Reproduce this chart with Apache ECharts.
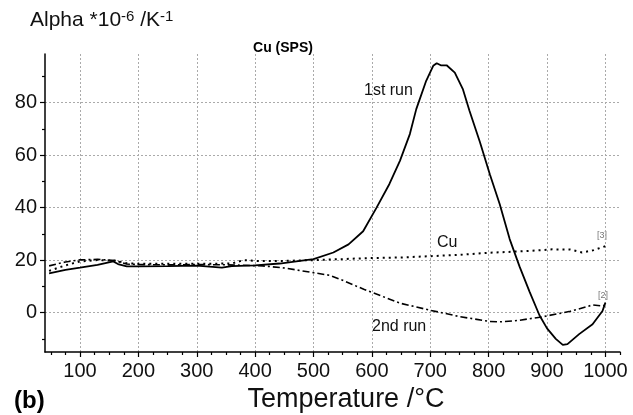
<!DOCTYPE html>
<html>
<head>
<meta charset="utf-8">
<script src="https://cdn.jsdelivr.net/npm/echarts@6/dist/echarts.min.js"></script>
<style>
  html, body { margin: 0; padding: 0; background: #fff; }
  #chart { width: 633px; height: 415px; }
</style>
</head>
<body>
<div id="chart"></div>
<script>
// values
const run1Temp = [47, 75, 100, 130, 157, 165, 180, 200, 250, 300, 343, 360, 400, 442, 477, 500, 534, 560, 585, 608, 630, 648, 665, 676, 693, 705, 711, 718, 728, 742, 756, 767, 785, 802, 819, 836, 853, 870, 887, 900, 915, 927, 935, 955, 978, 995, 1000];
const run1Alpha = [14.9, 16.3, 17.1, 18.2, 19.5, 18.5, 17.6, 17.6, 17.7, 17.9, 17.1, 17.7, 18, 18.7, 19.7, 20.4, 22.9, 26, 31, 40, 49, 57.8, 68, 77.5, 88.3, 94, 95, 94.2, 94.2, 91.4, 85, 77, 65, 52.7, 41.3, 28, 17.5, 8, -1, -6, -10, -12.3, -12, -8.2, -4.4, 0.6, 3.8];

const cuTemp = [47, 75, 100, 130, 160, 180, 200, 250, 300, 360, 380, 403, 450, 500, 550, 586, 650, 700, 750, 800, 841, 870, 909, 940, 960, 980, 1001];
const cuAlpha = [15.9, 18, 19.5, 20, 19.8, 18.8, 18.6, 18.6, 18.6, 18.7, 20, 19.7, 19.7, 20, 20.4, 20.7, 21, 21.5, 22, 22.8, 23.2, 23.5, 24.1, 24, 22.9, 23.8, 25.4];

const run2Temp = [47, 75, 100, 130, 160, 180, 200, 250, 300, 350, 413, 450, 500, 528, 550, 586, 620, 650, 700, 750, 802, 820, 850, 892, 940, 978, 995, 1001];
const run2Alpha = [17.8, 19.3, 20.1, 20.3, 19.8, 18.5, 18.3, 18.2, 18.3, 18.2, 17.8, 17, 15.2, 14.2, 12.3, 8.9, 6, 3.5, 0.9, -1.5, -3.4, -3.5, -3, -1.6, 0.5, 2.9, 2.5, 3];

const xTicks = [100, 200, 300, 400, 500, 600, 700, 800, 900, 1000];
const xMinorTicks = [50, 75, 125, 150, 175, 225, 250, 275, 325, 350, 375, 425, 450, 475, 525, 550, 575, 625, 650, 675, 725, 750, 775, 825, 850, 875, 925, 950, 975, 1025];
const yTicks = [0, 20, 40, 60, 80];
const yMinorTicks = [-10, 10, 30, 50, 70, 90];

const font = 'Liberation Sans, Arial, sans-serif';
const pairs = (xs, ys) => xs.map((x, i) => [x, ys[i]]);

let chart = echarts.init(document.getElementById('chart'));
chart.setOption({
  animation: false,
  backgroundColor: '#fff',
  grid: { left: 45, right: 13, top: 54, bottom: 63 },
  xAxis: [
    {
      type: 'value', min: 40, max: 1025,
      axisLine: { onZero: false, lineStyle: { color: '#000', width: 1.5 } },
      axisTick: { customValues: xTicks, length: 5, lineStyle: { color: '#000', width: 1.2 } },
      axisLabel: { customValues: xTicks, formatter: (v) => String(v), fontSize: 20, color: '#111', margin: 9, fontFamily: font },
      splitLine: { show: true, lineStyle: { type: [2, 2], color: '#aaa', width: 1 } }
    },
    {
      type: 'value', min: 40, max: 1025, position: 'bottom',
      axisLine: { show: false, onZero: false },
      axisTick: { customValues: xMinorTicks, length: 3, lineStyle: { color: '#000', width: 1.2 } },
      axisLabel: { show: false },
      splitLine: { show: false }
    }
  ],
  yAxis: [
    {
      type: 'value', min: -15, max: 98.5,
      axisLine: { show: true, onZero: false, lineStyle: { color: '#000', width: 1.5 } },
      axisTick: { show: true, customValues: yTicks, length: 5, lineStyle: { color: '#000', width: 1.2 } },
      axisLabel: { customValues: yTicks, fontSize: 20, color: '#111', margin: 8, fontFamily: font },
      splitLine: { show: true, lineStyle: { type: [2, 2], color: '#aaa', width: 1 } }
    },
    {
      type: 'value', min: -15, max: 98.5, position: 'left',
      axisLine: { show: false, onZero: false },
      axisTick: { show: true, customValues: yMinorTicks, length: 3, lineStyle: { color: '#000', width: 1.2 } },
      axisLabel: { show: false },
      splitLine: { show: false }
    }
  ],
  series: [
    {
      name: '1st run', type: 'line', showSymbol: false,
      data: pairs(run1Temp, run1Alpha),
      lineStyle: { color: '#000', width: 1.8 }
    },
    {
      name: 'Cu', type: 'line', showSymbol: false,
      data: pairs(cuTemp, cuAlpha),
      lineStyle: { color: '#000', width: 2, type: [2, 4] }
    },
    {
      name: '2nd run', type: 'line', showSymbol: false,
      data: pairs(run2Temp, run2Alpha),
      lineStyle: { color: '#000', width: 1.6, type: [7, 3, 2, 3] }
    }
  ],
  graphic: [
    {
      type: 'text', x: 30, y: 9,
      style: {
        text: 'Alpha *10{sup|-6} /K{sup|-1}',
        font: '21px ' + font, fill: '#111',
        rich: { sup: { fontSize: 15, verticalAlign: 'top', padding: [0, 0, 8, 0] } }
      }
    },
    { type: 'text', x: 283, y: 48, style: { text: 'Cu (SPS)', font: 'bold 14px ' + font, fill: '#000', align: 'center', verticalAlign: 'middle' } },
    { type: 'text', x: 364, y: 91, style: { text: '1st run', font: '16px ' + font, fill: '#111', verticalAlign: 'middle' } },
    { type: 'text', x: 437, y: 243, style: { text: 'Cu', font: '16px ' + font, fill: '#111', verticalAlign: 'middle' } },
    { type: 'text', x: 372, y: 327, style: { text: '2nd run', font: '16px ' + font, fill: '#111', verticalAlign: 'middle' } },
    { type: 'text', x: 597, y: 236, style: { text: '[3]', font: '9px ' + font, fill: '#777', verticalAlign: 'middle' } },
    { type: 'text', x: 598, y: 296, style: { text: '[2]', font: '9px ' + font, fill: '#777', verticalAlign: 'middle' } },
    { type: 'text', x: 14, y: 401, style: { text: '(b)', font: 'bold 24px ' + font, fill: '#000', verticalAlign: 'middle' } },
    { type: 'text', x: 346, y: 400, style: { text: 'Temperature /°C', font: '27px ' + font, fill: '#111', align: 'center', verticalAlign: 'middle' } }
  ]
});
</script>
</body>
</html>
